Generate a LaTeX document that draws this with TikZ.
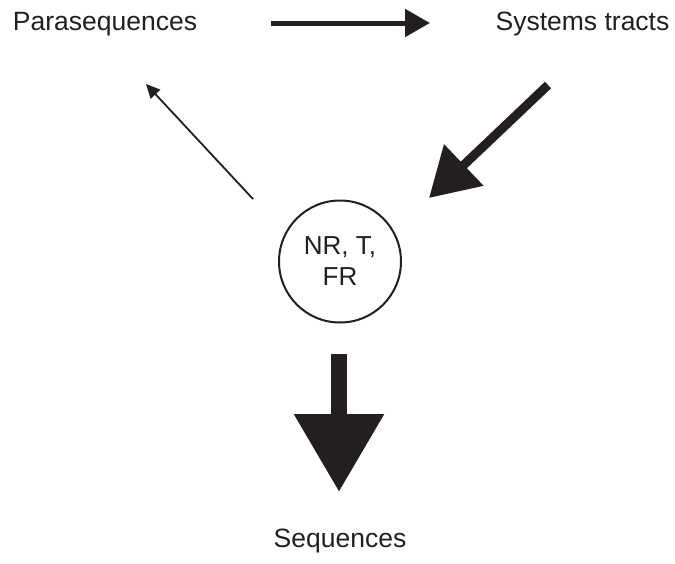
\documentclass[tikz,border=0pt]{standalone}
\usepackage{fontspec}
\setmainfont{Liberation Sans}
\usetikzlibrary{arrows.meta}
\definecolor{ink}{RGB}{35,31,32}
\begin{document}
\begin{tikzpicture}[x=1pt,y=-1pt,
  lbl/.style={inner sep=0pt,anchor=base,text=ink,font=\fontsize{26.5}{31}\selectfont},
  arr/.style={draw=ink,fill=ink,line cap=butt}]
\useasboundingbox (0,0) rectangle (675,563);
\node[lbl] (para) at (105,30) {Parasequences};
\node[lbl] (sys) at (582.5,30) {Systems tracts};
\node[lbl] (seq) at (340,547) {Sequences};
\node[draw=ink,line width=2pt,circle,minimum size=122pt,inner sep=0pt,
      align=center,text=ink,font=\fontsize{26}{31}\selectfont] (core) at (340,261.5) {NR, T,\\FR};
\coordinate (h1) at (271,23);
\coordinate (h2) at (430,23);
\coordinate (d1) at (548,85);
\coordinate (d2) at (429,198);
\coordinate (t1) at (253,199);
\coordinate (t2) at (146,84);
\coordinate (v1) at (339,354);
\coordinate (v2) at (339,492);
\draw[arr,line width=5pt,-{Triangle[length=25pt,width=27pt]}] (h1) -- (h2);
\draw[arr,line width=9pt,-{Triangle[length=48pt,width=55pt]}] (d1) -- (d2);
\draw[arr,line width=1.8pt,-{Triangle[length=14pt,width=13pt]}] (t1) -- (t2);
\draw[arr,line width=16pt,-{Triangle[length=78pt,width=86pt]}] (v1) -- (v2);
\end{tikzpicture}
\end{document}
